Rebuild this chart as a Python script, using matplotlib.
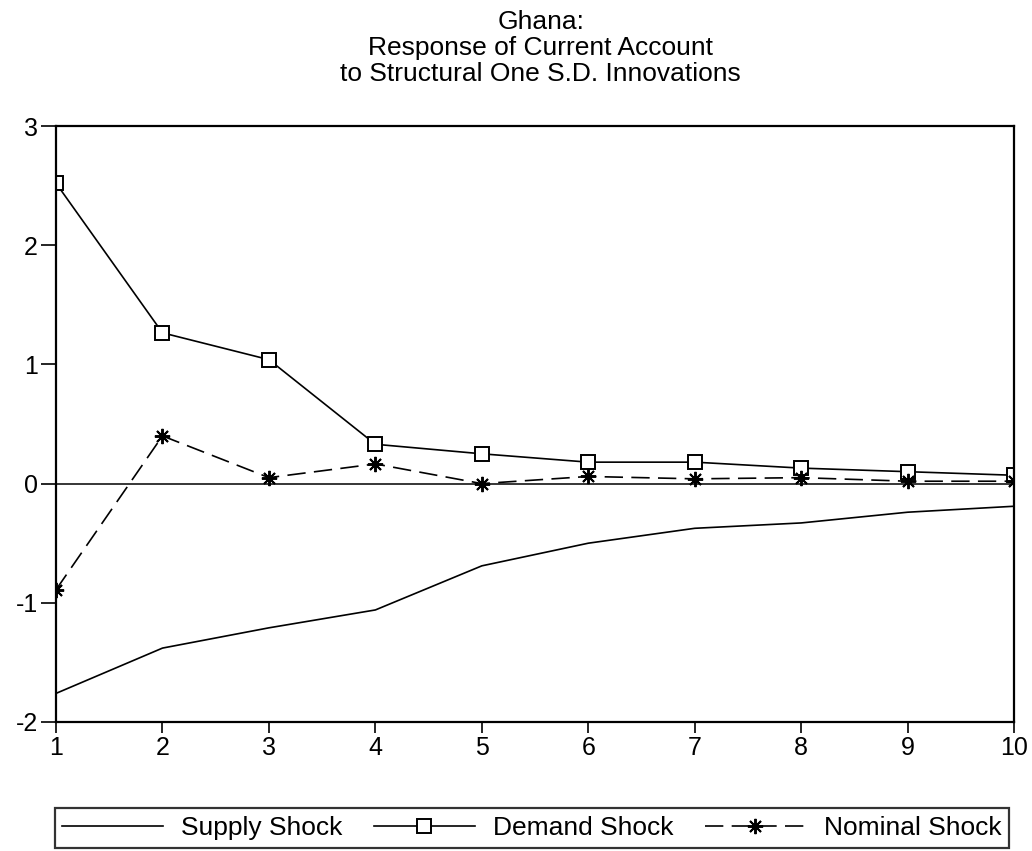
import numpy as np
import matplotlib
matplotlib.use("Agg")
import matplotlib.pyplot as plt

plt.rcParams['font.family'] = ['Liberation Sans', 'DejaVu Sans']
plt.rcParams['axes.unicode_minus'] = False

# impulse response horizon and responses of the current account
periods = [1, 2, 3, 4, 5, 6, 7, 8, 9, 10]
supply_shock = [-1.76, -1.38, -1.21, -1.06, -0.69, -0.50, -0.375, -0.33, -0.24, -0.19]
demand_shock = [2.52, 1.265, 1.04, 0.33, 0.25, 0.18, 0.18, 0.13, 0.10, 0.07]
nominal_shock = [-0.89, 0.40, 0.05, 0.165, 0.0, 0.06, 0.04, 0.05, 0.02, 0.02]

y_ticks = [-2, -1, 0, 1, 2, 3]
title = "Ghana:\nResponse of Current Account\nto Structural One S.D. Innovations"

fs = 19

fig = plt.figure(figsize=(10.32, 8.51), dpi=100)
ax = fig.add_axes([0.0543, 0.1516, 0.9283, 0.7003])

ax.axhline(0, color='black', linewidth=1.1)
ax.plot(periods, supply_shock, color='black', linewidth=1.2, label='Supply Shock')
ax.plot(periods, demand_shock, color='black', linewidth=1.2, marker='s',
        markersize=10, markerfacecolor='white', markeredgecolor='black',
        markeredgewidth=1.4, label='Demand Shock')
ax.plot(periods, nominal_shock, color='black', linewidth=1.2, dashes=(11, 5),
        marker=(8, 2, 0), markersize=11, markeredgewidth=1.4,
        label='Nominal Shock')

ax.set_xlim(1, 10)
ax.set_ylim(-2, 3)
ax.set_xticks(periods)
ax.set_yticks(y_ticks)
ax.tick_params(direction='out', width=1.2, labelsize=18)
ax.tick_params(axis='x', length=8, pad=2)
ax.tick_params(axis='y', length=11, pad=2)
for side in ax.spines.values():
    side.set_linewidth(1.6)

fig.text(0.524, 1 - 48 / 851, title, ha='center', va='center',
         fontsize=fs, linespacing=1.12)

leg = fig.legend(loc='center', bbox_to_anchor=(0.5155, 1 - 828 / 851), ncol=3,
                 fontsize=fs, frameon=True, fancybox=False, handlelength=3.8,
                 columnspacing=1.2, borderpad=0.3, handletextpad=0.7,
                 borderaxespad=0)
leg.get_frame().set_edgecolor('black')
leg.get_frame().set_linewidth(1.6)

fig.savefig('out.png', dpi=100)
